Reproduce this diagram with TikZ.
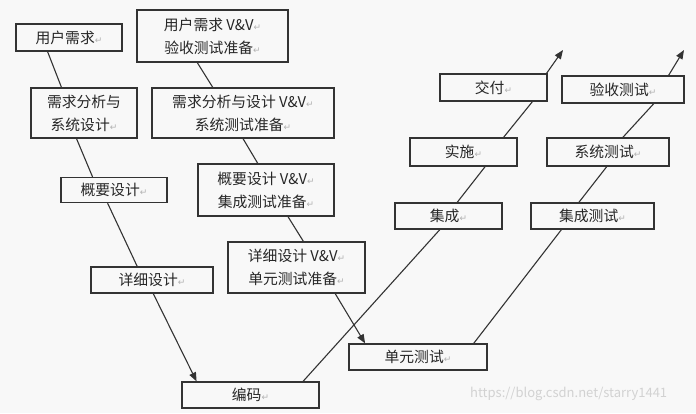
\documentclass[tikz,border=0pt]{standalone}
\usepackage{fontspec}
\setmainfont{Noto Sans CJK SC}
\newfontfamily\dvfont{DejaVu Sans}
\usetikzlibrary{arrows.meta,calc}
\definecolor{bgc}{HTML}{F8F8F8}
\definecolor{linec}{HTML}{333333}
\newcommand\pmark{{\dvfont\color{gray!60}\fontsize{9}{9}\selectfont ↵}}
\tikzset{
  box/.style={draw=linec, line width=1.2pt, fill=bgc, rectangle, inner sep=0pt, align=center,
    font=\fontsize{14.8}{23}\selectfont, text=black!85},
  conn/.style={draw=linec, line width=1.1pt},
  arr/.style={conn, -{Triangle[length=9pt,width=7pt]}},
}
\begin{document}
\begin{tikzpicture}[x=1pt,y=-1pt]
\fill[bgc] (0,0) rectangle (696,413);
\useasboundingbox (0,0) rectangle (696,413);
% left descending chain
\node[box, minimum width=106pt, minimum height=27pt] (a1) at (69,37.5) {用户需求\pmark};
\node[box, minimum width=106pt, minimum height=50pt] (a2) at (84,113) {需求分析与\\系统设计\pmark};
\node[box, minimum width=106pt, minimum height=25pt] (a3) at (114,190) {概要设计\pmark};
\node[box, minimum width=122pt, minimum height=26pt] (a4) at (152,280) {详细设计\pmark};
% V&V chain
\node[box, minimum width=151pt, minimum height=52pt] (b1) at (212.5,36) {用户需求 V\&V\pmark\\验收测试准备\pmark};
\node[box, minimum width=182pt, minimum height=50pt] (b2) at (243,113) {需求分析与设计 V\&V\pmark\\系统测试准备\pmark};
\node[box, minimum width=136pt, minimum height=52pt] (b3) at (266,190) {概要设计 V\&V\pmark\\集成测试准备\pmark};
\node[box, minimum width=137pt, minimum height=51pt] (b4) at (296.5,267.5) {详细设计 V\&V\pmark\\单元测试准备\pmark};
% bottom
\node[box, minimum width=137pt, minimum height=26pt] (c0) at (250.5,395) {编码\pmark};
\node[box, minimum width=138pt, minimum height=26pt] (d1) at (418,357) {单元测试\pmark};
% right ascending chains
\node[box, minimum width=107pt, minimum height=26pt] (e1) at (448.5,216) {集成\pmark};
\node[box, minimum width=107pt, minimum height=28pt] (e2) at (463.5,152) {实施\pmark};
\node[box, minimum width=107pt, minimum height=27pt] (e3) at (493.5,87.5) {交付\pmark};
\node[box, minimum width=123pt, minimum height=26pt] (f1) at (592.5,216) {集成测试\pmark};
\node[box, minimum width=122pt, minimum height=28pt] (f2) at (608,152) {系统测试\pmark};
\node[box, minimum width=122pt, minimum height=27pt] (f3) at (623,89.5) {验收测试\pmark};
\coordinate (t1) at (563,50);
\coordinate (t2) at (684,50);
% connectors: left chain
\draw[conn] ($(a1.south west)!0.30!(a1.south east)$) -- ($(a2.north west)!0.29!(a2.north east)$);
\draw[conn] ($(a2.south west)!0.43!(a2.south east)$) -- ($(a3.north west)!0.30!(a3.north east)$);
\draw[conn] ($(a3.south west)!0.44!(a3.south east)$) -- ($(a4.north west)!0.38!(a4.north east)$);
\draw[arr] ($(a4.south west)!0.51!(a4.south east)$) -- ($(c0.north west)!0.11!(c0.north east)$);
% V&V chain
\draw[conn] ($(b1.south west)!0.40!(b1.south east)$) -- ($(b2.north west)!0.335!(b2.north east)$);
\draw[conn] ($(b2.south west)!0.50!(b2.south east)$) -- ($(b3.north west)!0.44!(b3.north east)$);
\draw[conn] ($(b3.south west)!0.66!(b3.south east)$) -- ($(b4.north west)!0.55!(b4.north east)$);
\draw[arr] ($(b4.south west)!0.78!(b4.south east)$) -- ($(d1.north west)!0.12!(d1.north east)$);
% ascending chain 1
\draw[conn] ($(c0.north west)!0.88!(c0.north east)$) -- ($(e1.south west)!0.42!(e1.south east)$);
\draw[conn] ($(e1.north west)!0.58!(e1.north east)$) -- ($(e2.south west)!0.70!(e2.south east)$);
\draw[conn] ($(e2.north west)!0.87!(e2.north east)$) -- ($(e3.south west)!0.86!(e3.south east)$);
\draw[arr] ($(e3.north west)!0.99!(e3.north east)$) -- (t1);
% ascending chain 2
\draw[conn] ($(d1.north west)!0.90!(d1.north east)$) -- ($(f1.south west)!0.25!(f1.south east)$);
\draw[conn] ($(f1.north west)!0.39!(f1.north east)$) -- ($(f2.south west)!0.49!(f2.south east)$);
\draw[conn] ($(f2.north west)!0.62!(f2.north east)$) -- ($(f3.south west)!0.75!(f3.south east)$);
\draw[arr] ($(f3.north west)!0.87!(f3.north east)$) -- (t2);
% watermark
\node[text=gray!35, font=\fontsize{13}{13}\selectfont, anchor=west, inner sep=0pt] (wm) at (470,394) {https://blog.csdn.net/starry1441};
\end{tikzpicture}
\end{document}
